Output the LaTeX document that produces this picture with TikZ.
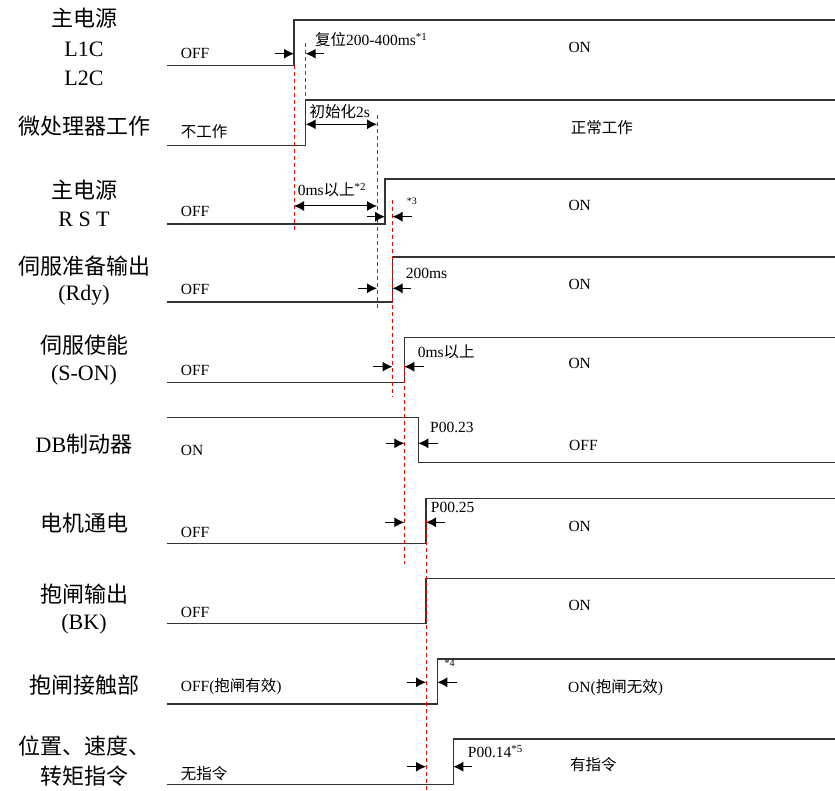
\documentclass[tikz,border=0pt]{standalone}
\usepackage{fontspec}
\setmainfont{Liberation Serif}
\newfontfamily\cjk{Noto Sans CJK SC}
\usetikzlibrary{arrows.meta}
\begin{document}
\begin{tikzpicture}[x=1pt,y=-1pt,
  sig/.style={line width=1.2pt, draw=black!80},
  guide/.style={draw=red, dash pattern=on 4pt off 3pt, line width=0.9pt},
  arr/.style={-{Latex[length=10pt,width=10pt]}, line width=1pt},
  darr/.style={{Latex[length=10pt,width=10pt]}-{Latex[length=10pt,width=10pt]}, line width=1pt},
  lbl/.style={font=\fontsize{22}{26}\selectfont, anchor=base, inner sep=0},
  sm/.style={font=\fontsize{15.5}{18}\selectfont, anchor=base west, inner sep=0},
  tiny/.style={font=\fontsize{10}{12}\selectfont, anchor=base west, inner sep=0}]
\useasboundingbox (0,0) rectangle (835,791);

% ---- left labels ----
\node[lbl] (l1a) at (84,27) {\cjk 主电源};
\node[lbl] (l1b) at (84,56.7) {L1C};
\node[lbl] (l1c) at (84,86) {L2C};
\node[lbl] (l2) at (84,135) {\cjk 微处理器工作};
\node[lbl] (l3a) at (84,198.5) {\cjk 主电源};
\node[lbl] (l3b) at (84,226.7) {R S T};
\node[lbl] (l4a) at (84,275) {\cjk 伺服准备输出};
\node[lbl] (l4b) at (84,301) {(Rdy)};
\node[lbl] (l5a) at (84,353.5) {\cjk 伺服使能};
\node[lbl] (l5b) at (84,381) {(S-ON)};
\node[lbl] (l6) at (84,452) {DB{\cjk 制动器}};
\node[lbl] (l7) at (84,531) {\cjk 电机通电};
\node[lbl] (l8a) at (84,602) {\cjk 抱闸输出};
\node[lbl] (l8b) at (84,629) {(BK)};
\node[lbl] (l9) at (84,693) {\cjk 抱闸接触部};
\node[lbl] (l10a) at (84,754) {\cjk 位置、速度、};
\node[lbl] (l10b) at (84,784) {\cjk 转矩指令};

% ---- signals ----
\draw[sig] (167,65.3) -- (294,65.3) -- (294,20) -- (835,20);
\draw[sig] (167,145.7) -- (305.7,145.7) -- (305.7,100) -- (835,100);
\draw[sig] (167,224) -- (385,224) -- (385,179) -- (835,179);
\draw[sig] (167,302) -- (392.5,302) -- (392.5,257) -- (835,257);
\draw[sig] (167,382.3) -- (404.3,382.3) -- (404.3,337.3) -- (835,337.3);
\draw[sig] (167,417.3) -- (418.3,417.3) -- (418.3,462.7) -- (835,462.7);
\draw[sig] (167,543.3) -- (426,543.3) -- (426,498.3) -- (835,498.3);
\draw[sig] (167,623.7) -- (426,623.7) -- (426,578.3) -- (835,578.3);
\draw[sig] (167,704) -- (437.3,704) -- (437.3,659) -- (835,659);
\draw[sig] (167,784.3) -- (453.3,784.3) -- (453.3,739) -- (835,739);

% ---- red guides ----
\draw[guide] (294,65.3) -- (294,232);
\draw[guide] (305.7,43) -- (305.7,100);
\draw[guide] (377,115) -- (377,308);
\draw[guide] (392.5,200) -- (392.5,397);
\draw[guide] (404.3,365) -- (404.3,564);
\draw[guide] (426,520) -- (426,791);

% ---- row 1 ----
\node[sm] (off1) at (180.7,58.3) {OFF};
\node[sm] (t1) at (315,45.7) {{\cjk 复位}200-400ms\textsuperscript{*1}};
\node[sm] (on1) at (568.3,52.7) {ON};
\draw[arr] (275,53.7) -- (294,53.7);
\draw[arr] (324,53.7) -- (305.7,53.7);

% ---- row 2 ----
\node[sm] (off2) at (180.7,138) {\cjk 不工作};
\node[sm] (t2) at (309.3,117.3) {{\cjk 初始化}2s};
\node[sm] (on2) at (570.7,133.3) {\cjk 正常工作};
\draw[darr] (305.7,124.3) -- (377,124.3);

% ---- row 3 ----
\node[sm] (off3) at (180.7,216.7) {OFF};
\node[sm] (t3) at (297.7,196) {0ms{\cjk 以上}\textsuperscript{*2}};
\node[tiny] (t3b) at (406.7,205) {*3};
\node[sm] (on3) at (568.3,211) {ON};
\draw[darr] (294,206) -- (377,206);
\draw[arr] (366.7,216.7) -- (385,216.7);
\draw[arr] (411.7,216.7) -- (392.5,216.7);

% ---- row 4 ----
\node[sm] (off4) at (180.7,295) {OFF};
\node[sm] (t4) at (405.7,278.3) {200ms};
\node[sm] (on4) at (568.3,290) {ON};
\draw[arr] (358,288.3) -- (377,288.3);
\draw[arr] (410.7,288.3) -- (392.5,288.3);

% ---- row 5 ----
\node[sm] (off5) at (180.7,375) {OFF};
\node[sm] (t5) at (417.7,357.3) {0ms{\cjk 以上}};
\node[sm] (on5) at (568.3,369) {ON};
\draw[arr] (373.3,366.7) -- (392.5,366.7);
\draw[arr] (424.3,366.7) -- (404.3,366.7);

% ---- row 6 ----
\node[sm] (on6) at (180.7,455) {ON};
\node[sm] (t6) at (430,432.3) {P00.23};
\node[sm] (off6) at (569,450) {OFF};
\draw[arr] (385.7,443.3) -- (404.3,443.3);
\draw[arr] (438.3,443.3) -- (418.3,443.3);

% ---- row 7 ----
\node[sm] (off7) at (180.7,537) {OFF};
\node[sm] (t7) at (430.7,512.3) {P00.25};
\node[sm] (on7) at (568.3,531.7) {ON};
\draw[arr] (385,522.3) -- (404.3,522.3);
\draw[arr] (445,522.3) -- (426,522.3);

% ---- row 8 ----
\node[sm] (off8) at (180.7,617) {OFF};
\node[sm] (on8) at (568.3,610) {ON};

% ---- row 9 ----
\node[sm] (off9) at (180.7,691) {OFF({\cjk 抱闸有效})};
\node[tiny] (t9) at (444.3,666.7) {*4};
\node[sm] (on9) at (568,692.3) {ON({\cjk 抱闸无效})};
\draw[arr] (406.7,682.3) -- (426,682.3);
\draw[arr] (456.7,682.3) -- (437.3,682.3);

% ---- row 10 ----
\node[sm] (off10) at (180.7,779) {\cjk 无指令};
\node[sm] (t10) at (467.7,757.3) {P00.14\textsuperscript{*5}};
\node[sm] (on10) at (570,770) {\cjk 有指令};
\draw[arr] (406.7,766.7) -- (426,766.7);
\draw[arr] (472.3,766.7) -- (453.3,766.7);
\end{tikzpicture}
\end{document}
